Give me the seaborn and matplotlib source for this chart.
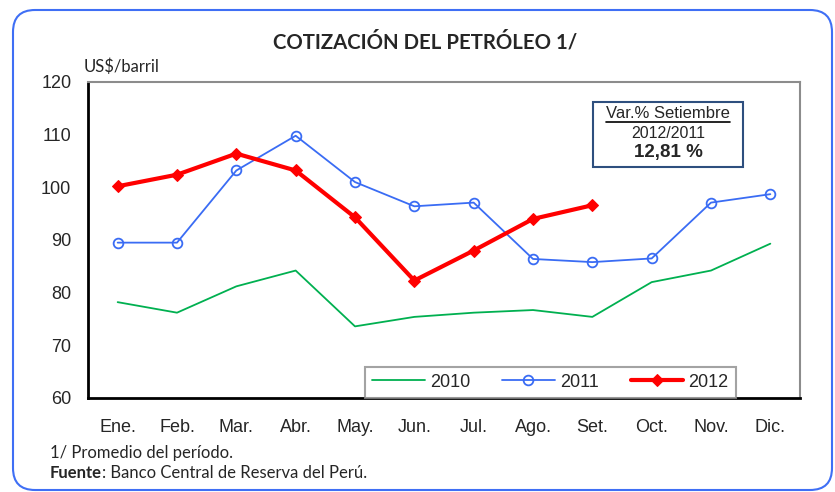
import seaborn as sns
import matplotlib.pyplot as plt
import matplotlib.lines as mlines
from matplotlib.patches import FancyBboxPatch
from matplotlib.transforms import IdentityTransform
import pandas as pd
import numpy as np

months = ['Ene.', 'Feb.', 'Mar.', 'Abr.', 'May.', 'Jun.', 'Jul.', 'Ago.', 'Set.', 'Oct.', 'Nov.', 'Dic.']
precio_2010 = [78.2, 76.2, 81.2, 84.2, 73.6, 75.4, 76.2, 76.7, 75.4, 82.0, 84.2, 89.3]
precio_2011 = [89.5, 89.5, 103.2, 109.8, 101.0, 96.4, 97.1, 86.4, 85.8, 86.5, 97.1, 98.7]
precio_2012 = [100.2, 102.4, 106.4, 103.2, 94.3, 82.3, 88.0, 94.0, 96.6]

sns.set_theme(style='white')
plt.rcParams['font.family'] = ['Liberation Sans', 'DejaVu Sans']
calibri = ['Lato', 'DejaVu Sans']

df = pd.DataFrame({'pos': np.arange(len(months)), 'mes': months,
                   '2010': precio_2010, '2011': precio_2011,
                   '2012': precio_2012 + [np.nan] * (len(months) - len(precio_2012))})

fig = plt.figure(figsize=(8.35, 4.92), dpi=100)
ax = fig.add_axes([88 / 835, 1 - 398 / 492, 712 / 835, 316 / 492])

sns.lineplot(data=df, x='pos', y='2010', ax=ax, color='#00b050', lw=1.3, label='2010')
sns.lineplot(data=df, x='pos', y='2011', ax=ax, color='#3a6cf4', lw=1.3, marker='o',
             markersize=7, markerfacecolor='none', markeredgecolor='#3a6cf4',
             markeredgewidth=1.3, label='2011')
sns.lineplot(data=df.dropna(), x='pos', y='2012', ax=ax, color='#ff0000', lw=3, marker='D',
             markersize=6.5, markeredgecolor='#ff0000', label='2012')

ax.set_xlim(-0.5, len(months) - 0.5)
ax.set_ylim(60, 120)
ax.set_yticks(range(60, 121, 10))
ax.set_xticks(np.arange(-0.5, len(months), 1))
ax.set_xticklabels([])
ax.set_xticks(np.arange(len(months)), minor=True)
ax.set_xticklabels(months, minor=True)
ax.tick_params(axis='x', which='major', direction='out', length=4, width=1.2, color='black')
ax.tick_params(axis='x', which='minor', length=0, pad=15, labelsize=13)
ax.tick_params(axis='y', direction='out', length=4, width=1.2, color='black', pad=8, labelsize=13)
ax.set_xlabel('')
ax.set_ylabel('')

for s in ['left', 'bottom']:
    ax.spines[s].set_color('black')
    ax.spines[s].set_linewidth(2)
for s in ['top', 'right']:
    ax.spines[s].set_color('#8c8c8c')
    ax.spines[s].set_linewidth(1.5)

leg = ax.legend(loc='lower left', bbox_to_anchor=(0.389, 0.0, 0.521, 0.12), mode='expand',
                ncol=3, fontsize=13, frameon=True, fancybox=False, handlelength=2.9,
                handletextpad=0.3, borderaxespad=0, columnspacing=0.8)
leg.get_frame().set_edgecolor('#8c8c8c')
leg.get_frame().set_linewidth(1.5)

# caja de variacion
box = FancyBboxPatch((593, 492 - 167), 150, 65, boxstyle='square,pad=0', fc='white',
                     ec='#2e4f7e', lw=1.5, transform=IdentityTransform(), zorder=4)
fig.add_artist(box)
var_txt = fig.text(668 / 835, 1 - 113 / 492, 'Var.% Setiembre', ha='center', va='center',
                   fontsize=12, zorder=5)
fig.text(668 / 835, 1 - 133 / 492, '2012/2011', ha='center', va='center', fontsize=11.5, zorder=5)
fig.text(668 / 835, 1 - 153 / 492, '12,81 %', ha='center', va='center', fontsize=13.5,
         fontweight='bold', zorder=5)

fig.text(425 / 835, 1 - 42 / 492, 'COTIZACIÓN DEL PETRÓLEO 1/', ha='center', va='center',
         fontsize=14.7, fontweight='bold', family=calibri)
fig.text(84 / 835, 1 - 67 / 492, 'US$/barril', ha='left', va='center', fontsize=12, family=calibri)

fig.text(50 / 835, 1 - 453 / 492, '1/ Promedio del período.', ha='left', va='center', fontsize=12,
         family=calibri)
t = fig.text(50 / 835, 1 - 473 / 492, 'Fuente', ha='left', va='center', fontsize=12,
             fontweight='bold', family=calibri)
rest = fig.text(0, 1 - 473 / 492, ': Banco Central de Reserva del Perú.', fontsize=12,
                family=calibri, ha='left', va='center')
fig.canvas.draw()
bb = t.get_window_extent()
rest.set_position((bb.x1 / 835, 1 - 473 / 492))

vb = var_txt.get_window_extent()
fig.add_artist(mlines.Line2D([vb.x0 / 835, vb.x1 / 835], [1 - 122 / 492, 1 - 122 / 492],
                             color='black', lw=1.2, zorder=5))

border = FancyBboxPatch((13, 2), 819, 480, boxstyle='round,pad=0,rounding_size=22', fc='none',
                        ec='#3f6ff5', lw=1.5, transform=IdentityTransform())
fig.add_artist(border)

fig.savefig('out.png', dpi=100)
